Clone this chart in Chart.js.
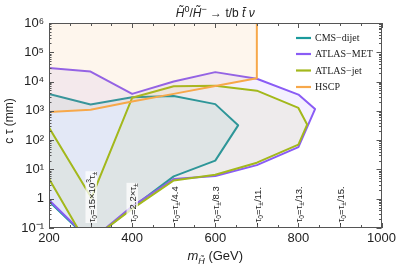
<!DOCTYPE html>
<html>
<head>
<meta charset="utf-8">
<script src="https://cdn.jsdelivr.net/npm/chart.js@4.4.0/dist/chart.umd.min.js"></script>
<style>
  html, body { margin: 0; padding: 0; background: #fff; }
  #wrap { width: 399px; height: 271px; }
</style>
</head>
<body>
<div id="wrap"><canvas id="mycanvas" width="399" height="271"></canvas></div>
<script>
// region outlines (m in GeV, c tau in mm)
var cmsMass  = [180, 200, 300, 400, 500, 600, 655, 600, 500, 400, 300, 200, 180];
var cmsCtau  = [3800, 3800, 1650, 2900, 3200, 1700, 320, 20, 5.8, 0.5, 0.035, 0.82, 0.82];

var metMass  = [180, 200, 300, 400, 500, 600, 700, 800, 840, 800, 700, 600, 500, 400, 300, 200, 180];
var metCtau  = [29000, 29000, 22000, 3800, 10000, 21000, 12500, 3600, 1150, 58, 14, 6, 4.7, 0.55, 0.037, 0.9, 0.9];

var jetMass  = [180, 200, 302, 400, 500, 600, 700, 800, 821, 800, 700, 600, 500, 400, 290, 200, 180];
var jetCtau  = [270, 270, 1.07, 2800, 6900, 7200, 4900, 1260, 340, 70, 17, 6.6, 4.2, 0.45, 0.03, 4.8, 4.8];

var hscpMass = [180, 200, 300, 400, 500, 600, 700, 700, 180];
var hscpCtau = [920, 920, 1100, 2100, 3800, 7000, 13000, 3e6, 3e6];

var massTicks = [200, 400, 600, 800, 1000];
var ctauTicks = [0.1, 1, 10, 100, 1e3, 1e4, 1e5, 1e6];
var ctauTickLabels = ['10\u207B\u00B9', '1', '10\u00B9', '10\u00B2', '10\u00B3', '10\u2074', '10\u2075', '10\u2076'];

// lifetime reference lines
var gridMass   = [300, 400, 500, 600, 700, 800, 900];
var gridLabels = ['\u03C4_0=15\u00D710^3\u03C4_\u00B1', '\u03C4_0=2.2\u00D7\u03C4_\u00B1', '\u03C4_0=\u03C4_\u00B1/4.4',
                  '\u03C4_0=\u03C4_\u00B1/8.3', '\u03C4_0=\u03C4_\u00B1/11.', '\u03C4_0=\u03C4_\u00B1/13.', '\u03C4_0=\u03C4_\u00B1/15.'];

var SANS = '"Liberation Sans", Arial, sans-serif';
var SERIF = '"Liberation Serif", "Times New Roman", serif';

function pts(xs, ys) {
  var out = [];
  for (var i in xs) out.push({x: xs[i], y: ys[i]});
  return out;
}

// draw a string with _x subscripts and ^x superscripts
function drawRich(ctx, str, x, y, size, family, measureOnly) {
  var parts = str.split(/(_.|\^.)/).filter(function(s){ return s.length; });
  var w = 0;
  parts.forEach(function(p) {
    var sz = size, dy = 0, t = p;
    if (p[0] === '_') { t = p.slice(1); sz = size * 0.7; dy = size * 0.22; }
    else if (p[0] === '^') { t = p.slice(1); sz = size * 0.7; dy = -size * 0.38; }
    ctx.font = sz + 'px ' + family;
    if (!measureOnly) ctx.fillText(t, x + w, y + dy);
    w += ctx.measureText(t).width;
  });
  return w;
}

var framePlugin = {
  id: 'frame',
  afterDatasetsDraw: function(chart) {
    var ctx = chart.ctx, a = chart.chartArea;
    var xs = chart.scales.x, ys = chart.scales.y;
    ctx.save();

    // reference lines with rotated labels
    gridMass.forEach(function(m, i) {
      var px = Math.round(xs.getPixelForValue(m)) + 0.5;
      var w = drawRich(ctx, gridLabels[i], 0, 0, 9.5, SANS, true);
      ctx.save();
      ctx.translate(px, a.bottom - 5);
      ctx.rotate(-Math.PI / 2);
      ctx.fillStyle = 'rgba(255,255,255,0.75)';
      ctx.fillRect(0, -6, w + 1, 11.5);
      ctx.fillStyle = '#222';
      ctx.textBaseline = 'alphabetic';
      drawRich(ctx, gridLabels[i], 0.5, 3.4, 9.5, SANS, false);
      ctx.restore();
      ctx.strokeStyle = '#333';
      ctx.lineWidth = 1;
      ctx.beginPath();
      ctx.moveTo(px, a.bottom);
      ctx.lineTo(px, a.bottom - 5);
      ctx.stroke();
    });

    // frame
    ctx.strokeStyle = '#555';
    ctx.lineWidth = 1;
    ctx.strokeRect(Math.round(a.left) + 0.5, Math.round(a.top) + 0.5,
                   Math.round(a.right - a.left) - 1, Math.round(a.bottom - a.top) - 1);

    // ticks, pointing inward
    ctx.beginPath();
    for (var m = 200; m <= 1000; m += 50) {
      var px = Math.round(xs.getPixelForValue(m)) + 0.5;
      var len = (m % 200 === 0) ? 5 : 3;
      ctx.moveTo(px, a.bottom); ctx.lineTo(px, a.bottom - len);
      ctx.moveTo(px, a.top); ctx.lineTo(px, a.top + len);
    }
    for (var e = -1; e < 6; e++) {
      for (var k = 1; k <= 9; k++) {
        var v = k * Math.pow(10, e);
        var py = Math.round(ys.getPixelForValue(v)) + 0.5;
        var l2 = (k === 1) ? 5 : 2.5;
        ctx.moveTo(a.left, py); ctx.lineTo(a.left + l2, py);
        ctx.moveTo(a.right, py); ctx.lineTo(a.right - l2, py);
      }
    }
    ctx.stroke();

    // legend
    var ly = [38, 54, 70.5, 87];
    chart.data.datasets.forEach(function(ds, i) {
      ctx.strokeStyle = ds.borderColor;
      ctx.lineWidth = 2.2;
      ctx.beginPath();
      ctx.moveTo(296, ly[i]); ctx.lineTo(311, ly[i]);
      ctx.stroke();
      ctx.fillStyle = '#222';
      ctx.font = '10px ' + SERIF;
      ctx.textBaseline = 'middle';
      ctx.fillText(ds.label, 315, ly[i] + 0.5);
    });

    // titles
    ctx.fillStyle = '#222';
    ctx.textBaseline = 'alphabetic';
    var title = [['italic 12px ' + SANS, 'H\u0303', 0], ['9px ' + SANS, '0', -5], ['12px ' + SANS, '/', 0],
                 ['italic 12px ' + SANS, 'H\u0303', 0], ['9px ' + SANS, '\u2212', -5],
                 ['12px ' + SANS, ' \u2192 t/b ', 0], ['italic 12px ' + SANS, 't\u0304', 0],
                 ['12px ' + SANS, ' ', 0], ['italic 12px ' + SANS, '\u03BD', 0]];
    var tw = 0;
    title.forEach(function(t){ ctx.font = t[0]; tw += ctx.measureText(t[1]).width; });
    var tx = (a.left + a.right) / 2 - tw / 2;
    title.forEach(function(t){ ctx.font = t[0]; ctx.fillText(t[1], tx, 17 + t[2]); tx += ctx.measureText(t[1]).width; });

    var xt = [['italic 13px ' + SANS, 'm', 0], ['italic 9px ' + SANS, 'H\u0303', 3.5], ['13px ' + SANS, ' (GeV)', 0]];
    tw = 0;
    xt.forEach(function(t){ ctx.font = t[0]; tw += ctx.measureText(t[1]).width; });
    tx = (a.left + a.right) / 2 - tw / 2;
    xt.forEach(function(t){ ctx.font = t[0]; ctx.fillText(t[1], tx, 260 + t[2]); tx += ctx.measureText(t[1]).width; });

    ctx.save();
    ctx.translate(13, 121);
    ctx.rotate(-Math.PI / 2);
    ctx.textAlign = 'center';
    ctx.font = '12px ' + SANS;
    ctx.fillText('c \u03C4 (mm)', 0, 0);
    ctx.restore();

    ctx.restore();
  }
};

function region(label, xs, ys, color, fillColor, order) {
  return {
    label: label,
    data: pts(xs, ys),
    borderColor: color,
    backgroundColor: fillColor,
    borderWidth: 2,
    borderJoinStyle: 'round',
    fill: 'shape',
    pointRadius: 0,
    tension: 0,
    order: order
  };
}

var chartdata = {
  datasets: [
    region('CMS\u2212dijet', cmsMass, cmsCtau, '#1b9a9c', 'rgba(27,154,156,0.08)', 3),
    region('ATLAS\u2212MET', metMass, metCtau, '#8a5cf5', 'rgba(138,92,245,0.09)', 2),
    region('ATLAS\u2212jet', jetMass, jetCtau, '#a3b81c', 'rgba(163,184,28,0.08)', 1),
    region('HSCP', hscpMass, hscpCtau, '#f7a84a', 'rgba(247,168,74,0.10)', 0)
  ]
};

var ctx = document.getElementById('mycanvas');
var plot = new Chart(ctx, {
  type: 'line',
  data: chartdata,
  plugins: [framePlugin],
  options: {
    responsive: false,
    animation: false,
    events: [],
    layout: { padding: { top: 23, right: 16, left: 0, bottom: 0 } },
    plugins: { legend: { display: false }, title: { display: false }, tooltip: { enabled: false } },
    scales: {
      x: {
        type: 'linear', min: 200, max: 1000,
        grid: { display: false, drawTicks: false, tickLength: 0 }, border: { display: false },
        afterBuildTicks: function(s) { s.ticks = massTicks.map(function(v){ return {value: v}; }); },
        afterFit: function(s) { s.height = 43; },
        ticks: {
          padding: 3, color: '#222', maxRotation: 0, font: { family: SANS, size: 13 },
          callback: function(v) { return String(v); }
        }
      },
      y: {
        type: 'logarithmic', min: 0.1, max: 1e6,
        grid: { display: false, drawTicks: false, tickLength: 0 }, border: { display: false },
        afterBuildTicks: function(s) { s.ticks = ctauTicks.map(function(v){ return {value: v}; }); },
        afterFit: function(s) { s.width = 49; },
        ticks: {
          padding: 5, color: '#222', font: { family: SANS, size: 13 },
          callback: function(v) { var i = ctauTicks.indexOf(v); return i < 0 ? '' : ctauTickLabels[i]; }
        }
      }
    }
  }
});
</script>
</body>
</html>
